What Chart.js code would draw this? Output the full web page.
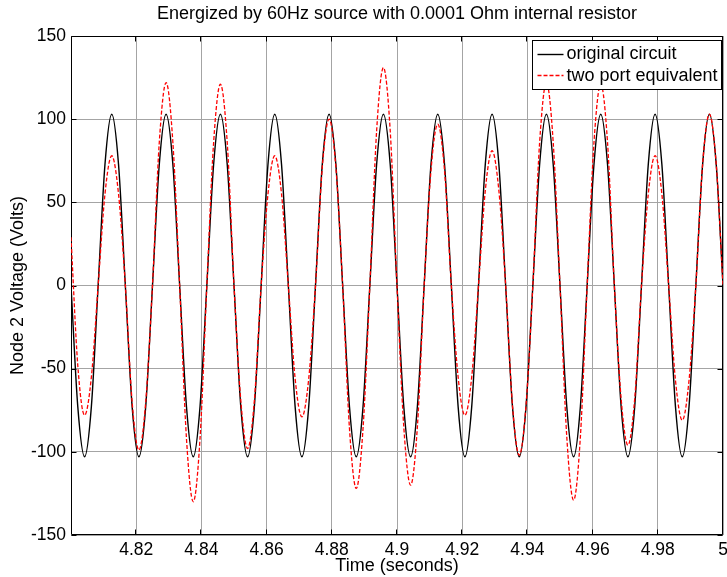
<!DOCTYPE html>
<html>
<head>
<meta charset="utf-8">
<title>Node 2 Voltage</title>
<script src="https://cdn.jsdelivr.net/npm/chart.js@4.4.1/dist/chart.umd.min.js"></script>
<style>
  html, body { margin: 0; padding: 0; background: #ffffff; }
  #wrap { width: 727px; height: 577px; }
</style>
</head>
<body>
<div id="wrap"><canvas id="plot" width="727" height="577"></canvas></div>
<script>
// Sample times (s), one sample every eighth of a 60 Hz cycle
const timeSec = [
  4.80000, 4.80208, 4.80417, 4.80625, 4.80833, 4.81042, 4.81250, 4.81458,
  4.81667, 4.81875, 4.82083, 4.82292, 4.82500, 4.82708, 4.82917, 4.83125,
  4.83333, 4.83542, 4.83750, 4.83958, 4.84167, 4.84375, 4.84583, 4.84792,
  4.85000, 4.85208, 4.85417, 4.85625, 4.85833, 4.86042, 4.86250, 4.86458,
  4.86667, 4.86875, 4.87083, 4.87292, 4.87500, 4.87708, 4.87917, 4.88125,
  4.88333, 4.88542, 4.88750, 4.88958, 4.89167, 4.89375, 4.89583, 4.89792,
  4.90000, 4.90208, 4.90417, 4.90625, 4.90833, 4.91042, 4.91250, 4.91458,
  4.91667, 4.91875, 4.92083, 4.92292, 4.92500, 4.92708, 4.92917, 4.93125,
  4.93333, 4.93542, 4.93750, 4.93958, 4.94167, 4.94375, 4.94583, 4.94792,
  4.95000, 4.95208, 4.95417, 4.95625, 4.95833, 4.96042, 4.96250, 4.96458,
  4.96667, 4.96875, 4.97083, 4.97292, 4.97500, 4.97708, 4.97917, 4.98125,
  4.98333, 4.98542, 4.98750, 4.98958, 4.99167, 4.99375, 4.99583, 4.99792,
  5.00000
];

// Node 2 voltage of the original circuit (V)
const originalCircuit = [
  0, -72.8, -103, -72.8, 0, 72.8, 103, 72.8,
  0, -72.8, -103, -72.8, 0, 72.8, 103, 72.8,
  0, -72.8, -103, -72.8, 0, 72.8, 103, 72.8,
  0, -72.8, -103, -72.8, 0, 72.8, 103, 72.8,
  0, -72.8, -103, -72.8, 0, 72.8, 103, 72.8,
  0, -72.8, -103, -72.8, 0, 72.8, 103, 72.8,
  0, -72.8, -103, -72.8, 0, 72.8, 103, 72.8,
  0, -72.8, -103, -72.8, 0, 72.8, 103, 72.8,
  0, -72.8, -103, -72.8, 0, 72.8, 103, 72.8,
  0, -72.8, -103, -72.8, 0, 72.8, 103, 72.8,
  0, -72.8, -103, -72.8, 0, 72.8, 103, 72.8,
  0, -72.8, -103, -72.8, 0, 72.8, 103, 72.8,
  0
];

// Node 2 voltage of the two port equivalent (V)
const twoPortEquivalent = [
  29, -48, -78, -55, 0, 55, 78, 55,
  0, -70, -99, -70, 0, 86, 122, 86,
  0, -92, -130, -92, 0, 86, 121, 86,
  0, -69, -98, -69, 0, 55, 78, 55,
  0, -56, -79, -56, 0, 71, 100, 71,
  0, -86, -122, -86, 0, 93, 131, 93,
  0, -85, -120, -85, 0, 69, 97, 69,
  0, -55, -78, -55, 0, 57, 81, 57,
  0, -72, -102, -72, 0, 86, 122, 86,
  0, -91, -129, -91, 0, 86, 121, 86,
  0, -68, -96, -68, 0, 55, 78, 55,
  0, -57, -81, -57, 0, 73, 103, 73,
  0
];

const seriesNames = ['original circuit', 'two port equivalent'];
const xTickValues = [4.82, 4.84, 4.86, 4.88, 4.90, 4.92, 4.94, 4.96, 4.98, 5.00];
const yTickValues = [-150, -100, -50, 0, 50, 100, 150];

const FONT_FAMILY = "'Liberation Sans', Arial, Helvetica, sans-serif";
const TEXT_SIZE = 18;
const TICK_SIZE = 17.5;

function toPoints(values) {
  return timeSec.map((t, i) => ({ x: t, y: values[i] }));
}

// Black box round the axes with inward tick marks on all four sides
const axesBox = {
  id: 'axesBox',
  beforeDatasetsDraw(chart) {
    const { ctx, chartArea: a, scales } = chart;
    const L = Math.round(a.left) + 0.5, R = Math.round(a.right) - 0.5;
    const T = Math.round(a.top) + 0.5, B = Math.round(a.bottom) - 0.5;
    const len = 5;
    ctx.save();
    ctx.strokeStyle = '#000000';
    ctx.lineWidth = 1;
    ctx.beginPath();
    xTickValues.forEach(v => {
      const px = Math.round(scales.x.getPixelForValue(v)) - 0.5;
      ctx.moveTo(px, B); ctx.lineTo(px, B - len);
      ctx.moveTo(px, T); ctx.lineTo(px, T + len);
    });
    yTickValues.forEach(v => {
      const py = Math.round(scales.y.getPixelForValue(v)) + 0.5;
      ctx.moveTo(L, py); ctx.lineTo(L + len, py);
      ctx.moveTo(R, py); ctx.lineTo(R - len, py);
    });
    ctx.stroke();
    ctx.beginPath();
    ctx.rect(L, T, R - L, B - T);
    ctx.stroke();
    ctx.restore();
  }
};

// Heading centred over the plotting area
const heading = {
  id: 'heading',
  afterDraw(chart) {
    const { ctx, chartArea: a } = chart;
    ctx.save();
    ctx.fillStyle = '#000000';
    ctx.font = `${TEXT_SIZE}px ${FONT_FAMILY}`;
    ctx.textAlign = 'center';
    ctx.textBaseline = 'alphabetic';
    ctx.fillText('Energized by 60Hz source with 0.0001 Ohm internal resistor', (a.left + a.right) / 2, 19);
    ctx.restore();
  }
};

// Boxed legend in the upper right corner of the axes
const legendBox = {
  id: 'legendBox',
  afterDatasetsDraw(chart) {
    const { ctx, chartArea: a } = chart;
    const right = Math.round(a.right) - 1.5;
    const top = Math.round(a.top) + 4.5;
    const w = 189, h = 49;
    const left = right - w;
    ctx.save();
    ctx.fillStyle = '#ffffff';
    ctx.fillRect(left, top, w, h);
    ctx.strokeStyle = '#000000';
    ctx.lineWidth = 1;
    ctx.strokeRect(left, top, w, h);

    const rows = [
      { y: top + 13, ds: chart.data.datasets[0] },
      { y: top + 34.5, ds: chart.data.datasets[1] }
    ];
    ctx.font = `${TEXT_SIZE}px ${FONT_FAMILY}`;
    ctx.textAlign = 'left';
    ctx.textBaseline = 'middle';
    rows.forEach(r => {
      ctx.beginPath();
      ctx.strokeStyle = r.ds.borderColor;
      ctx.lineWidth = r.ds.borderWidth;
      ctx.setLineDash(r.ds.borderDash || []);
      ctx.moveTo(left + 5, Math.round(r.y) + 0.5);
      ctx.lineTo(left + 31, Math.round(r.y) + 0.5);
      ctx.stroke();
      ctx.setLineDash([]);
      ctx.fillStyle = '#000000';
      ctx.fillText(r.ds.label, left + 34, r.y + 1);
    });
    ctx.restore();
  }
};

const tickFont = { family: FONT_FAMILY, size: TICK_SIZE };
const titleFont = { family: FONT_FAMILY, size: TEXT_SIZE };

new Chart(document.getElementById('plot'), {
  type: 'line',
  data: {
    datasets: [
      {
        label: seriesNames[0],
        data: toPoints(originalCircuit),
        borderColor: '#000000',
        borderWidth: 1.4,
        pointRadius: 0,
        fill: false,
        cubicInterpolationMode: 'monotone',
        order: 1
      },
      {
        label: seriesNames[1],
        data: toPoints(twoPortEquivalent),
        borderColor: '#ff0000',
        borderWidth: 1.3,
        borderDash: [4, 2],
        pointRadius: 0,
        fill: false,
        cubicInterpolationMode: 'monotone',
        order: 0
      }
    ]
  },
  options: {
    responsive: false,
    animation: false,
    devicePixelRatio: 1,
    layout: { padding: { top: 36, right: 4, left: 0, bottom: 0 } },
    plugins: {
      legend: { display: false },
      title: { display: false },
      tooltip: { enabled: false }
    },
    scales: {
      x: {
        type: 'linear',
        min: 4.8,
        max: 5.0,
        afterBuildTicks(scale) { scale.ticks = xTickValues.map(v => ({ value: v })); },
        afterFit(scale) { scale.height = 42; scale.paddingLeft = 0; scale.paddingRight = 0; },
        ticks: {
          autoSkip: false,
          maxRotation: 0,
          color: '#000000',
          font: tickFont,
          padding: 5,
          callback: v => String(Number(Number(v).toFixed(2)))
        },
        grid: { color: '#a4a4a4', lineWidth: 1, drawTicks: false },
        border: { display: false },
        title: {
          display: true,
          text: 'Time (seconds)',
          color: '#000000',
          font: titleFont,
          padding: { top: 0, bottom: 0 }
        }
      },
      y: {
        type: 'linear',
        min: -150,
        max: 150,
        afterBuildTicks(scale) { scale.ticks = yTickValues.map(v => ({ value: v })); },
        afterFit(scale) { scale.width = 71; scale.paddingTop = 0; scale.paddingBottom = 0; },
        ticks: {
          color: '#000000',
          font: tickFont,
          padding: 5,
          callback: v => String(v)
        },
        grid: { color: '#a4a4a4', lineWidth: 1, drawTicks: false },
        border: { display: false },
        title: {
          display: true,
          text: 'Node 2 Voltage (Volts)',
          color: '#000000',
          font: titleFont,
          padding: { top: 7, bottom: 0 }
        }
      }
    }
  },
  plugins: [axesBox, heading, legendBox]
});
</script>
</body>
</html>
